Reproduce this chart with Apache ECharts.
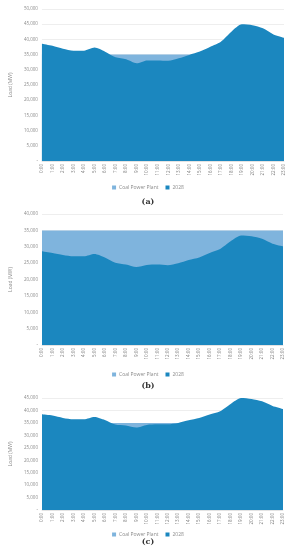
<!DOCTYPE html>
<html><head><meta charset="utf-8">
<script src="https://cdn.jsdelivr.net/npm/echarts@6/dist/echarts.min.js"></script>
<style>html,body{margin:0;padding:0;background:#fff}#c{width:296px;height:550px}</style>
</head><body><div id="c"></div>
<script>
var hours = ['0:00','1:00','2:00','3:00','4:00','5:00','6:00','7:00','8:00','9:00','10:00','11:00','12:00','13:00','14:00','15:00','16:00','17:00','18:00','19:00','20:00','21:00','22:00','23:00'];
var load2028A = [38600,37900,36950,36300,36300,37300,35950,34100,33450,32150,33100,33100,33000,33800,34900,36000,37600,39250,42550,44950,44650,43650,41650,40550];
var coalA = [35000,35000,35000,35000,35000,35000,35000,35000,35000,35000,35000,35000,35000,35000,35000,35000,35000,35000,35000,35000,35000,35000,35000,35000];
var load2028B = [28600,28100,27500,27100,27100,27800,26750,25150,24550,23800,24450,24550,24350,24950,25950,26750,28100,29300,31650,33400,33200,32450,30950,30150];
var coalB = [35000,35000,35000,35000,35000,35000,35000,35000,35000,35000,35000,35000,35000,35000,35000,35000,35000,35000,35000,35000,35000,35000,35000,35000];
var load2028C = [38450,37950,37000,36450,36450,37400,36200,34350,33950,33150,34200,34450,34450,35000,36050,37000,38350,39650,42600,45000,44600,43650,41800,40600];
var coalC = [35000,35000,35000,35000,35000,35000,35000,35000,35000,35000,35000,35000,35000,35000,35000,35000,35000,35000,35000,35000,35000,35000,35000,35000];
var yMaxes = [50000, 40000, 45000];
var panelLabels = ['(a)', '(b)', '(c)'];
var seriesNames = ['Coal Power Plant', '2028'];

var DARK = '#1b87bf', LIGHT = '#7fb4dd', TXT = '#8c8c8c';
var grids = [
  {left: 41, width: 243, top: 9, height: 152},
  {left: 42, width: 241, top: 214, height: 131},
  {left: 42, width: 241, top: 398, height: 112}
];
var legendTops = [180, 367, 527];
var labelTops = [198, 382, 538];
var coals = [coalA, coalB, coalC];
var loads = [load2028A, load2028B, load2028C];

var xAxis = [], yAxis = [], series = [], legend = [], graphic = [];
for (var i = 0; i < 3; i++) {
  xAxis.push({
    type: 'category', gridIndex: i, data: hours, boundaryGap: false,
    axisLine: {show: true, lineStyle: {color: '#d9d9d9', width: 0.5}},
    axisTick: {show: false},
    axisLabel: {rotate: 90, fontSize: 4.5, color: '#7a7a7a', margin: 3, interval: 0, fontFamily: 'Open Sans'}
  });
  yAxis.push({
    type: 'value', gridIndex: i, min: 0, max: yMaxes[i], interval: 5000,
    name: 'Load (MW)', nameLocation: 'middle', nameGap: 27, nameRotate: 90,
    nameTextStyle: {fontSize: 5, color: TXT, fontFamily: 'Open Sans'},
    axisLine: {show: false}, axisTick: {show: false},
    splitLine: {lineStyle: {color: '#e3e3e3', width: 0.6}},
    axisLabel: {fontSize: 4.5, color: TXT, margin: 4, fontFamily: 'Open Sans',
      formatter: function (v) { return v === 0 ? '-' : v.toLocaleString('en-US'); }}
  });
  series.push({
    name: seriesNames[0], type: 'line', xAxisIndex: i, yAxisIndex: i, data: coals[i],
    symbol: 'none', lineStyle: {width: 0}, areaStyle: {color: LIGHT, opacity: 1}, itemStyle: {color: LIGHT}
  });
  series.push({
    name: seriesNames[1], type: 'line', xAxisIndex: i, yAxisIndex: i, data: loads[i], smooth: 0.25,
    symbol: 'none', lineStyle: {width: 0}, areaStyle: {color: DARK, opacity: 1}, itemStyle: {color: DARK}
  });
  legend.push({
    top: legendTops[i], left: 'center', icon: 'rect', itemWidth: 4, itemHeight: 4, itemGap: 7,
    data: seriesNames, textStyle: {fontSize: 5, color: TXT, fontFamily: 'Open Sans', padding: [0, 0, 0, -2]}, selectedMode: false
  });
  graphic.push({
    type: 'text', left: 'center', top: labelTops[i],
    style: {text: panelLabels[i], fontSize: 8, fontWeight: 'bold', fill: '#333', fontFamily: 'DejaVu Serif'}
  });
}

var chart = echarts.init(document.getElementById('c'), null, {renderer: 'canvas'});
chart.setOption({
  animation: false, backgroundColor: '#fff',
  grid: grids, xAxis: xAxis, yAxis: yAxis, series: series, legend: legend, graphic: graphic
});
</script></body></html>
